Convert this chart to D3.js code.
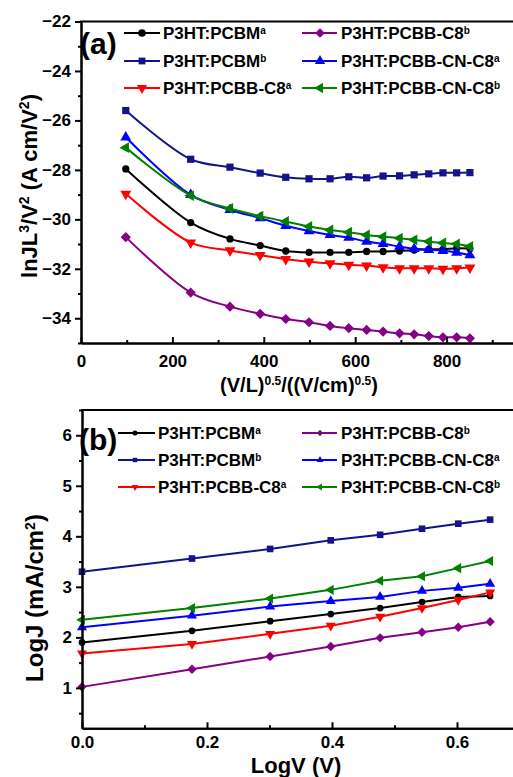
<!DOCTYPE html>
<html>
<head>
<meta charset="utf-8">
<script src="https://cdn.jsdelivr.net/npm/d3@7"></script>
<style>
  body { margin: 0; background: #fff; }
  svg { display: block; font-family: "Liberation Sans", Arial, sans-serif; font-weight: bold; }
</style>
</head>
<body>
<svg id="chart" width="513" height="777"></svg>
<script>
// ---- data ----
// panel (a): field (V/L)^0.5 and lnJL^3/V^2
const fieldX = [98, 240, 326, 392, 448, 499, 545, 586, 625, 661, 697, 729, 761, 792, 822, 851];
const lnPCBMa   = [-27.96, -30.13, -30.79, -31.06, -31.28, -31.34, -31.34, -31.34, -31.30, -31.30, -31.28, -31.24, -31.21, -31.21, -31.17, -31.18];
const lnPCBMb   = [-25.60, -27.57, -27.89, -28.13, -28.30, -28.36, -28.36, -28.28, -28.32, -28.25, -28.24, -28.20, -28.16, -28.12, -28.12, -28.11];
const lnC8a     = [-28.97, -30.94, -31.26, -31.45, -31.61, -31.71, -31.78, -31.84, -31.87, -31.94, -31.98, -31.98, -31.98, -32.00, -31.98, -31.95];
const lnC8b     = [-30.72, -32.96, -33.53, -33.82, -34.03, -34.16, -34.31, -34.40, -34.47, -34.54, -34.61, -34.65, -34.72, -34.77, -34.77, -34.81];
const lnCNC8a   = [-26.68, -29.01, -29.62, -29.95, -30.26, -30.47, -30.63, -30.74, -30.90, -30.99, -31.10, -31.19, -31.23, -31.27, -31.34, -31.45];
const lnCNC8b   = [-27.10, -29.04, -29.56, -29.87, -30.09, -30.29, -30.43, -30.52, -30.63, -30.70, -30.76, -30.83, -30.90, -30.96, -31.00, -31.10];

// panel (b): LogV and LogJ
const logV = [0, 0.176, 0.301, 0.398, 0.477, 0.544, 0.602, 0.653];
const logJPCBMa = [1.90, 2.13, 2.32, 2.46, 2.58, 2.70, 2.80, 2.82];
const logJPCBMb = [3.30, 3.56, 3.75, 3.92, 4.03, 4.15, 4.25, 4.33];
const logJC8a   = [1.68, 1.87, 2.07, 2.23, 2.41, 2.58, 2.74, 2.89];
const logJC8b   = [1.02, 1.37, 1.62, 1.82, 1.99, 2.10, 2.20, 2.31];
const logJCNC8a = [2.20, 2.43, 2.61, 2.72, 2.80, 2.92, 2.98, 3.06];
const logJCNC8b = [2.35, 2.58, 2.77, 2.94, 3.12, 3.21, 3.37, 3.51];

// series descriptors (same order in both panels)
const seriesNames  = ["P3HT:PCBM", "P3HT:PCBM", "P3HT:PCBB-C8", "P3HT:PCBB-C8", "P3HT:PCBB-CN-C8", "P3HT:PCBB-CN-C8"];
const seriesSup    = ["a", "b", "a", "b", "a", "b"];
const seriesColors = ["#000000", "#14148a", "#ff0000", "#850085", "#0000ff", "#008000"];
const seriesShapes = ["circle", "square", "down", "diamond", "up", "left"];

// tick labels
const ticksA_X = [0, 200, 400, 600, 800];
const minorA_X = [100, 300, 500, 700, 900];
const ticksA_Y = [-34, -32, -30, -28, -26, -24, -22];
const minorA_Y = [-35, -33, -31, -29, -27, -25, -23];
const ticksB_X = [0.0, 0.2, 0.4, 0.6];
const minorB_X = [0.1, 0.3, 0.5];
const ticksB_Y = [1, 2, 3, 4, 5, 6];
const minorB_Y = [0.5, 1.5, 2.5, 3.5, 4.5, 5.5, 6.5];

const svg = d3.select("#chart");
svg.append("rect").attr("width", 513).attr("height", 777).attr("fill", "#fff");

function symbolPath(shape, size) {
  const type = (shape === "circle") ? d3.symbolCircle
             : (shape === "square" || shape === "diamond") ? d3.symbolSquare
             : d3.symbolTriangle;
  return d3.symbol().type(type).size(size)();
}
function symbolRotation(shape) {
  return shape === "diamond" ? 45 : shape === "down" ? 180 : shape === "left" ? -90 : 0;
}

function addSupText(sel, parts, supSize) {
  // parts: array of [text, isSup]
  parts.forEach(([t, sup]) => {
    const ts = sel.append("tspan").text(t);
    if (sup) ts.attr("font-size", supSize).attr("baseline-shift", "super");
  });
}

function drawPanel(cfg) {
  const g = svg.append("g");
  const x = d3.scaleLinear().domain(cfg.xDomain).range(cfg.xRange);
  const y = d3.scaleLinear().domain(cfg.yDomain).range(cfg.yRange);
  const x0 = cfg.xRange[0], yb = cfg.yRange[0], yt = cfg.yRange[1];

  // data lines and markers
  cfg.series.forEach((vals, i) => {
    const pts = cfg.xs.map((xv, k) => [xv, vals[k]]);
    const line = d3.line().x(d => x(d[0])).y(d => y(d[1])).curve(cfg.curve);
    g.append("path").datum(pts).attr("d", line)
      .attr("fill", "none").attr("stroke", seriesColors[i]).attr("stroke-width", 2);
    g.selectAll(null).data(pts).enter().append("path")
      .attr("d", symbolPath(seriesShapes[i], cfg.markerSize * (seriesShapes[i] === "circle" ? 0.8 : 1)))
      .attr("transform", d => `translate(${x(d[0])},${y(d[1])}) rotate(${symbolRotation(seriesShapes[i])})`)
      .attr("fill", seriesColors[i]);
  });

  // axes
  const axX = d3.axisBottom(x).tickValues(cfg.xTicks).tickSize(-6).tickSizeOuter(0)
    .tickPadding(cfg.xTickPad).tickFormat(cfg.xFormat);
  const axXm = d3.axisBottom(x).tickValues(cfg.xMinor).tickSize(-3).tickSizeOuter(0).tickFormat("");
  const axY = d3.axisLeft(y).tickValues(cfg.yTicks).tickSize(6).tickSizeOuter(0)
    .tickPadding(cfg.yTickPad).tickFormat(d3.format("d"));
  const axYm = d3.axisLeft(y).tickValues(cfg.yMinor).tickSize(3).tickSizeOuter(0).tickFormat("");

  [axXm, axX].forEach(a => g.append("g").attr("transform", `translate(0,${yb})`).call(a));
  [axYm, axY].forEach(a => g.append("g").attr("transform", `translate(${x0},0)`).call(a));
  g.selectAll(".domain").attr("stroke", "#000").attr("stroke-width", 2);
  g.selectAll(".tick line").attr("stroke", "#000").attr("stroke-width", 2);
  g.selectAll(".tick text").attr("font-size", 17).attr("font-family", "Liberation Sans, Arial, sans-serif")
    .attr("font-weight", "bold").attr("fill", "#000");

  // top frame line
  g.append("line").attr("x1", x0 - 1).attr("x2", cfg.xRange[1]).attr("y1", yt).attr("y2", yt)
    .attr("stroke", "#000").attr("stroke-width", 2);

  // panel letter
  g.append("text").attr("x", cfg.letterPos[0]).attr("y", cfg.letterPos[1])
    .attr("font-size", 30).text(cfg.letter);

  // legend
  seriesNames.forEach((name, i) => {
    const col = i < 3 ? 0 : 1, row = i % 3;
    const cy = cfg.legendRows[row];
    const [lx1, lx2, mx, tx] = cfg.legendCols[col];
    g.append("line").attr("x1", lx1).attr("x2", lx2).attr("y1", cy).attr("y2", cy)
      .attr("stroke", seriesColors[i]).attr("stroke-width", 2);
    g.append("path").attr("d", symbolPath(seriesShapes[i], cfg.legendMarker))
      .attr("transform", `translate(${mx},${cy}) rotate(${symbolRotation(seriesShapes[i])})`)
      .attr("fill", seriesColors[i]);
    const t = g.append("text").attr("x", tx).attr("y", cy + 6).attr("font-size", 17).attr("fill", "#000");
    addSupText(t, [[name, false], [seriesSup[i], true]], 10);
  });

  // axis titles
  const xt = g.append("text").attr("x", cfg.xTitlePos[0]).attr("y", cfg.xTitlePos[1])
    .attr("text-anchor", "middle").attr("font-size", cfg.xTitleSize);
  addSupText(xt, cfg.xTitle, 12);
  const ytt = g.append("text")
    .attr("transform", `translate(${cfg.yTitlePos[0]},${cfg.yTitlePos[1]}) rotate(-90)`)
    .attr("text-anchor", "middle").attr("font-size", cfg.yTitleSize);
  addSupText(ytt, cfg.yTitle, 14);
}

drawPanel({
  xs: fieldX,
  series: [lnPCBMa, lnPCBMb, lnC8a, lnC8b, lnCNC8a, lnCNC8b],
  xDomain: [0, 1000], xRange: [81, 538],
  yDomain: [-35, -22], yRange: [343, 21.5],
  curve: d3.curveCatmullRom.alpha(0.5),
  markerSize: 52, legendMarker: 46,
  xTicks: ticksA_X, xMinor: minorA_X, xFormat: d3.format("d"), xTickPad: 12,
  yTicks: ticksA_Y, yMinor: minorA_Y, yTickPad: 4,
  letter: "(a)", letterPos: [80, 54],
  legendRows: [33, 61, 88],
  legendCols: [[124, 160, 142, 163], [302, 337, 320, 341]],
  xTitle: [["(V/L)", false], ["0.5", true], ["/((V/cm)", false], ["0.5", true], [")", false]],
  xTitlePos: [299, 392], xTitleSize: 20,
  yTitle: [["lnJL", false], ["3", true], ["/V", false], ["2", true], [" (A cm/V", false], ["2", true], [")", false]],
  yTitlePos: [37, 186], yTitleSize: 22
});

drawPanel({
  xs: logV,
  series: [logJPCBMa, logJPCBMb, logJC8a, logJC8b, logJCNC8a, logJCNC8b],
  xDomain: [0, 0.7], xRange: [82, 519.5],
  yDomain: [0.2, 6.5], yRange: [728.3, 410],
  curve: d3.curveLinear,
  markerSize: 44, legendMarker: 20,
  xTicks: ticksB_X, xMinor: minorB_X, xFormat: d3.format(".1f"), xTickPad: 8,
  yTicks: ticksB_Y, yMinor: minorB_Y, yTickPad: 4,
  letter: "(b)", letterPos: [79, 450],
  legendRows: [433, 460, 487],
  legendCols: [[118, 155, 135, 158], [302, 337, 320, 341]],
  xTitle: [["LogV (V)", false]],
  xTitlePos: [296, 773], xTitleSize: 22,
  yTitle: [["LogJ (mA/cm", false], ["2", true], [")", false]],
  yTitlePos: [43, 598], yTitleSize: 24
});
</script>
</body>
</html>
